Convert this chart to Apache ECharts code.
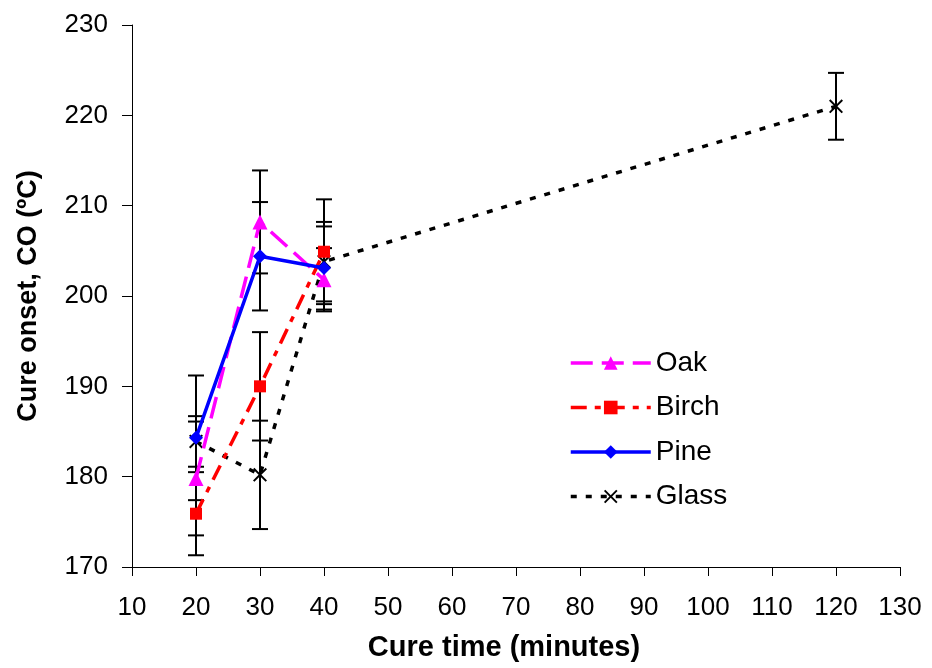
<!DOCTYPE html>
<html>
<head>
<meta charset="utf-8">
<script src="https://cdn.jsdelivr.net/npm/echarts@6/dist/echarts.min.js"></script>
<style>
html,body{margin:0;padding:0;background:#fff;}
#chart{width:932px;height:668px;}
</style>
</head>
<body>
<div id="chart"></div>
<script>
// ---- data ----
const cureTime = [20, 30, 40];
const glassTime = [20, 30, 40, 120];
const oak = [179.8, 208.2, 201.8];
const oakErr = [6.3, 5.7, 3.5];
const birch = [175.9, 190.0, 204.9];
const birchErr = [4.6, 6.0, 5.8];
const pine = [184.3, 204.4, 203.1];
const pineErr = [6.9, 6.0, 4.6];
const glass = [183.9, 180.2, 203.8, 221.0];
const glassErr = [2.8, 6.0, 4.4, 3.7];
const xTicks = {min: 10, max: 130, interval: 10};
const yTicks = {min: 170, max: 230, interval: 10};
const legendNames = ['Oak', 'Birch', 'Pine', 'Glass'];

const FONT = '"Liberation Sans", Arial, sans-serif';
const xMark = 'path://M2,0 L10,8 L18,0 L20,2 L12,10 L20,18 L18,20 L10,12 L2,20 L0,18 L8,10 L0,2 Z';

function pts(xs, ys) { return xs.map((x, i) => [x, ys[i]]); }
function errs(xs, ys, es) { return xs.map((x, i) => [x, ys[i] - es[i], ys[i] + es[i]]); }

const errData = [].concat(
  errs(cureTime, oak, oakErr),
  errs(cureTime, birch, birchErr),
  errs(cureTime, pine, pineErr),
  errs(glassTime, glass, glassErr)
);

const chart = echarts.init(document.getElementById('chart'), null, {renderer: 'canvas'});
chart.setOption({
  animation: false,
  backgroundColor: '#ffffff',
  textStyle: {fontFamily: FONT},
  grid: {left: 132, right: 32, top: 25, bottom: 101, containLabel: false},
  xAxis: {
    type: 'value', min: xTicks.min, max: xTicks.max, interval: xTicks.interval,
    name: 'Cure time (minutes)', nameLocation: 'middle', nameGap: 66,
    nameTextStyle: {fontSize: 29, fontWeight: 'bold', color: '#000', fontFamily: FONT, padding: [0, 24, 0, 0]},
    axisLine: {show: true, onZero: false, lineStyle: {color: '#000', width: 1}},
    axisTick: {show: true, inside: false, length: 9, lineStyle: {color: '#000'}},
    axisLabel: {fontSize: 26, color: '#000', margin: 28, fontFamily: FONT},
    splitLine: {show: false}
  },
  yAxis: {
    type: 'value', min: yTicks.min, max: yTicks.max, interval: yTicks.interval,
    name: 'Cure onset, CO (ºC)', nameLocation: 'middle', nameGap: 90,
    nameTextStyle: {fontSize: 27, fontWeight: 'bold', color: '#000', fontFamily: FONT},
    axisLine: {show: true, onZero: false, lineStyle: {color: '#000', width: 1}},
    axisTick: {show: true, inside: false, length: 10, lineStyle: {color: '#000'}},
    axisLabel: {fontSize: 26, color: '#000', margin: 24, fontFamily: FONT},
    splitLine: {show: false}
  },
  legend: {
    orient: 'vertical', left: 564, top: 344,
    itemWidth: 80, itemHeight: 17, itemGap: 16.5,
    textStyle: {fontSize: 28, color: '#000', fontFamily: FONT},
    lineStyle: {width: 3.5},
    data: legendNames
  },
  series: [
    {
      type: 'custom', name: 'err', z: 1, silent: true,
      renderItem: function (params, api) {
        const x = api.value(0);
        const lo = api.coord([x, api.value(1)]);
        const hi = api.coord([x, api.value(2)]);
        const w = 8;
        const style = {stroke: '#000', lineWidth: 2, fill: null};
        return {
          type: 'group',
          children: [
            {type: 'line', shape: {x1: hi[0], y1: hi[1], x2: lo[0], y2: lo[1]}, style: style},
            {type: 'line', shape: {x1: hi[0] - w, y1: hi[1], x2: hi[0] + w, y2: hi[1]}, style: style},
            {type: 'line', shape: {x1: lo[0] - w, y1: lo[1], x2: lo[0] + w, y2: lo[1]}, style: style}
          ]
        };
      },
      encode: {x: 0, y: [1, 2]},
      data: errData
    },
    {
      name: 'Glass', type: 'line', z: 2, data: pts(glassTime, glass),
      symbol: xMark, symbolSize: 14,
      lineStyle: {color: '#000', width: 3.5, type: [6, 9]},
      itemStyle: {color: '#000'}
    },
    {
      name: 'Birch', type: 'line', z: 3, data: pts(cureTime, birch),
      symbol: 'rect', symbolSize: 12,
      lineStyle: {color: '#ff0000', width: 3.5, type: [16, 8, 6, 8]},
      itemStyle: {color: '#ff0000'}
    },
    {
      name: 'Oak', type: 'line', z: 4, data: pts(cureTime, oak),
      symbol: 'triangle', symbolSize: 15,
      lineStyle: {color: '#ff00ff', width: 3.5, type: [22, 9]},
      itemStyle: {color: '#ff00ff'}
    },
    {
      name: 'Pine', type: 'line', z: 5, data: pts(cureTime, pine),
      symbol: 'diamond', symbolSize: 14,
      lineStyle: {color: '#0000ff', width: 3.5, type: 'solid'},
      itemStyle: {color: '#0000ff'}
    }
  ]
});
</script>
</body>
</html>
